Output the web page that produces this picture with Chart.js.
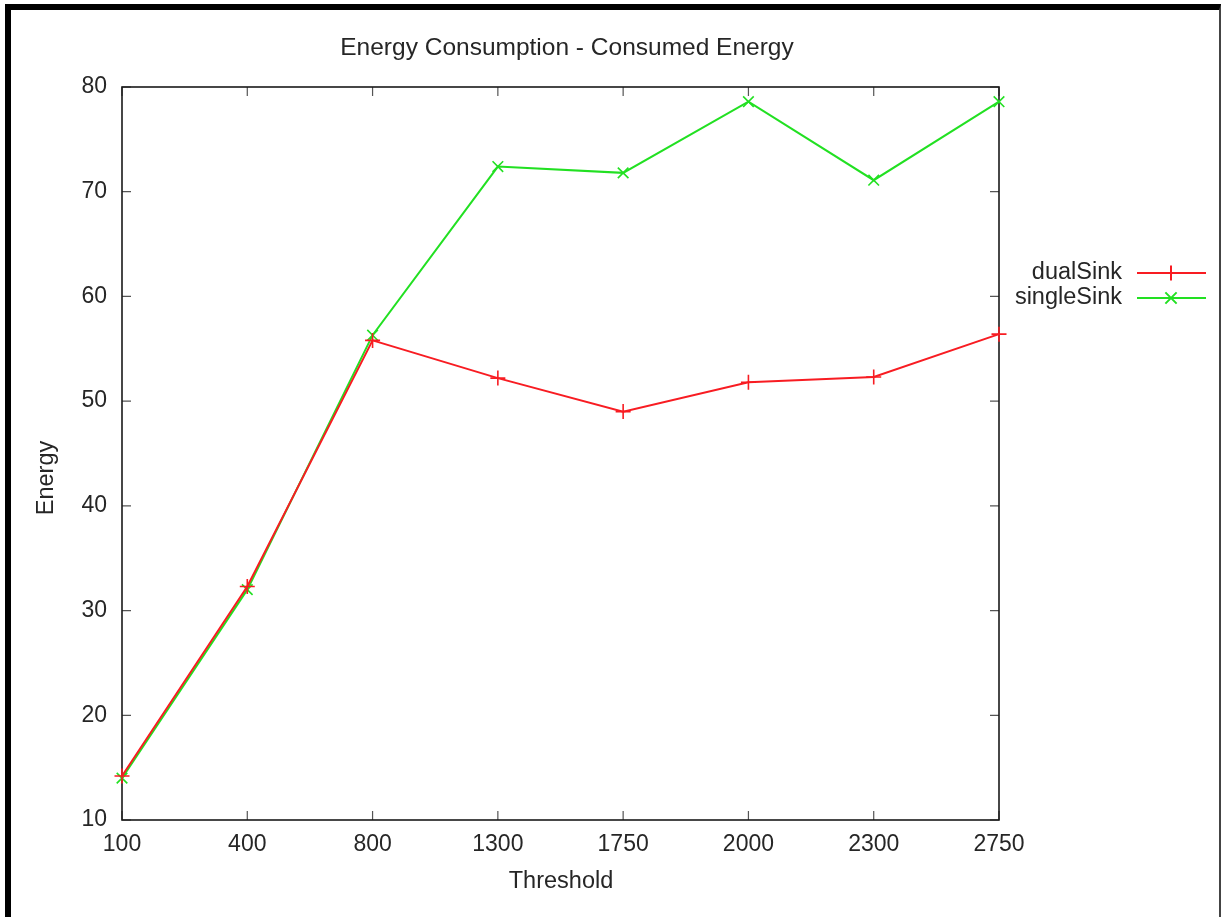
<!DOCTYPE html>
<html>
<head>
<meta charset="utf-8">
<script src="https://cdn.jsdelivr.net/npm/chart.js@4"></script>
<style>
    html, body { margin: 0; padding: 0; background: #fff; overflow: hidden; }
    #wrap { position: absolute; left: 0; top: 0; width: 1221px; height: 917px; }
    #frame {
        position: absolute; left: 5px; top: 4px; right: 0; bottom: -10px;
        border-top: 6px solid #000; border-left: 6px solid #000; border-right: 2px solid #444;
        pointer-events: none;
    }
</style>
</head>
<body>
<div id="wrap"><canvas id="energyChart" width="1221" height="917"></canvas></div>
<div id="frame"></div>
<script>
// Data
const thresholds = ["100", "400", "800", "1300", "1750", "2000", "2300", "2750"];
const dualSink = [14.2, 32.3, 55.8, 52.2, 49.0, 51.8, 52.3, 56.4];
const singleSink = [14.0, 32.0, 56.3, 72.4, 71.8, 78.6, 71.1, 78.6];
const yTicks = [10, 20, 30, 40, 50, 60, 70, 80];

// Style
const FONT = "Liberation Sans, Arial, sans-serif";
const TEXT_COLOR = "#262626";
const RED = "#f81c22";
const GREEN = "#22e022";

function drawMarker(ctx, style, x, y, r) {
    ctx.beginPath();
    if (style === "cross") {
        ctx.moveTo(x - r, y); ctx.lineTo(x + r, y);
        ctx.moveTo(x, y - r); ctx.lineTo(x, y + r);
    } else {
        const d = r * 0.75;
        ctx.moveTo(x - d, y - d); ctx.lineTo(x + d, y + d);
        ctx.moveTo(x - d, y + d); ctx.lineTo(x + d, y - d);
    }
    ctx.stroke();
}

// gnuplot-like frame, inward ticks, titles and legend
const gnuplotLook = {
    id: "gnuplotLook",
    beforeDatasetsDraw(chart) {
        const { ctx, chartArea: a, scales } = chart;
        ctx.save();
        ctx.strokeStyle = "#555";
        ctx.lineWidth = 1.2;
        const tl = 9;
        scales.x.ticks.forEach((t, i) => {
            const px = scales.x.getPixelForTick(i);
            ctx.beginPath();
            ctx.moveTo(px, a.bottom); ctx.lineTo(px, a.bottom - tl);
            ctx.moveTo(px, a.top); ctx.lineTo(px, a.top + tl);
            ctx.stroke();
        });
        scales.y.ticks.forEach(t => {
            const py = scales.y.getPixelForValue(t.value);
            ctx.beginPath();
            ctx.moveTo(a.left, py); ctx.lineTo(a.left + tl, py);
            ctx.moveTo(a.right, py); ctx.lineTo(a.right - tl, py);
            ctx.stroke();
        });
        ctx.strokeStyle = "#1a1a1a";
        ctx.lineWidth = 1.6;
        ctx.strokeRect(a.left, a.top, a.right - a.left, a.bottom - a.top);
        ctx.restore();
    },
    afterDraw(chart) {
        const { ctx, chartArea: a } = chart;
        ctx.save();
        ctx.fillStyle = TEXT_COLOR;
        ctx.textAlign = "center";
        ctx.textBaseline = "middle";
        ctx.font = "24.5px " + FONT;
        ctx.fillText("Energy Consumption - Consumed Energy", 567, 48);
        ctx.font = "23.5px " + FONT;
        ctx.fillText("Threshold", 561, 882);
        ctx.save();
        ctx.translate(47, 478);
        ctx.rotate(-Math.PI / 2);
        ctx.fillText("Energy", 0, 0);
        ctx.restore();

        // legend
        ctx.textAlign = "right";
        chart.data.datasets.forEach((ds, i) => {
            const y = 273 + i * 25;
            ctx.fillStyle = TEXT_COLOR;
            ctx.fillText(ds.label, 1122, y);
            ctx.strokeStyle = ds.borderColor;
            ctx.lineWidth = 2;
            ctx.beginPath();
            ctx.moveTo(1137, y); ctx.lineTo(1206, y);
            ctx.stroke();
            drawMarker(ctx, ds.pointStyle, 1171, y, 7.5);
        });
        ctx.restore();
    }
};

const ctx = document.getElementById("energyChart").getContext("2d");
new Chart(ctx, {
    type: "line",
    data: {
        labels: thresholds,
        datasets: [
            {
                label: "dualSink",
                data: dualSink,
                borderColor: RED,
                backgroundColor: RED,
                borderWidth: 2,
                pointStyle: "cross",
                pointRadius: 7.5,
                pointBorderWidth: 1.6,
                tension: 0
            },
            {
                label: "singleSink",
                data: singleSink,
                borderColor: GREEN,
                backgroundColor: GREEN,
                borderWidth: 2,
                pointStyle: "crossRot",
                pointRadius: 7.5,
                pointBorderWidth: 1.6,
                tension: 0
            }
        ]
    },
    options: {
        responsive: false,
        animation: false,
        layout: { padding: { top: 87, right: 222, left: 0, bottom: 0 } },
        plugins: {
            legend: { display: false },
            title: { display: false },
            tooltip: { enabled: false }
        },
        scales: {
            x: {
                type: "category",
                offset: false,
                grid: { display: false, drawTicks: false },
                border: { display: false },
                ticks: {
                    color: TEXT_COLOR,
                    font: { family: FONT, size: 23 },
                    padding: 11,
                    maxRotation: 0,
                    autoSkip: false
                },
                afterFit: scale => { scale.height = 97; }
            },
            y: {
                min: 10,
                max: 80,
                afterBuildTicks: scale => { scale.ticks = yTicks.map(v => ({ value: v })); },
                grid: { display: false, drawTicks: false },
                border: { display: false },
                ticks: {
                    color: TEXT_COLOR,
                    font: { family: FONT, size: 23 },
                    padding: 15
                },
                afterFit: scale => { scale.width = 122; }
            }
        }
    },
    plugins: [gnuplotLook]
});
</script>
</body>
</html>
